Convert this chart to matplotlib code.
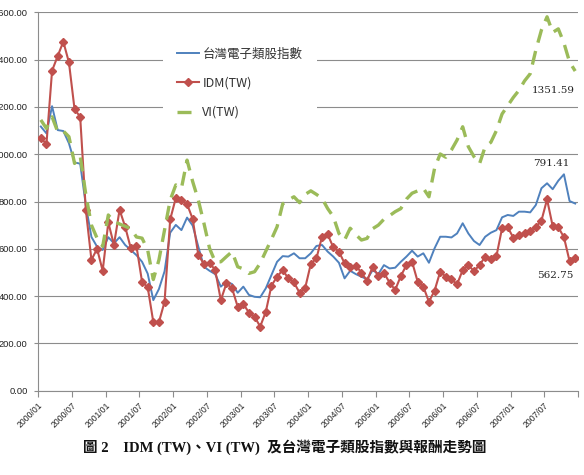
import matplotlib

matplotlib.use("Agg")
import matplotlib.pyplot as plt
import numpy as np

# monthly series, 2000/01 .. 2007/12
ELECTRONICS = [
    1117, 1088, 1203, 1102, 1098, 1046, 965, 960, 785, 650, 609, 595,
    649, 623, 649, 616, 595, 573, 545, 495, 383, 430, 505, 668,
    701, 679, 732, 698, 609, 524, 507, 493, 440, 461, 451, 414,
    440, 405, 397, 395, 433, 489, 545, 569, 567, 581, 560, 560,
    581, 612, 616, 588, 567, 541, 475, 507, 493, 482, 471, 510,
    493, 531, 517, 520, 545, 567, 592, 567, 581, 541, 602, 651,
    651, 648, 665, 708, 665, 633, 616, 651, 668, 679, 733, 743,
    739, 757, 757, 754, 785, 856, 877, 852, 888, 915, 802, 791.41,
]
IDM = [
    1070, 1042, 1353, 1415, 1476, 1388, 1190, 1158, 765, 553, 600, 507,
    712, 616, 765, 693, 602, 612, 460, 438, 290, 290, 376, 724,
    815, 806, 789, 726, 574, 536, 541, 510, 383, 454, 433, 355,
    367, 330, 313, 271, 334, 444, 482, 510, 475, 458, 414, 435,
    536, 560, 651, 661, 606, 588, 539, 522, 529, 499, 465, 524,
    485, 499, 457, 426, 485, 531, 545, 461, 440, 376, 423, 503,
    482, 471, 450, 510, 531, 506, 531, 567, 555, 569, 687, 691,
    647, 657, 665, 675, 692, 719, 809, 696, 691, 649, 548, 562.75,
]
VI = [
    1145, 1109, 1158, 1095, 1098, 1074, 961, 992, 830, 700, 645, 610,
    743, 715, 705, 695, 685, 650, 645, 595, 470, 553, 680, 806,
    870, 856, 975, 884, 806, 708, 602, 545, 545, 567, 588, 524,
    515, 496, 503, 539, 590, 640, 693, 790, 806, 820, 795, 830,
    845, 830, 813, 770, 736, 665, 637, 687, 660, 637, 644, 685,
    700, 725, 740, 757, 770, 810, 835, 845, 856, 820, 940, 1001,
    987, 1018, 1060, 1116, 1032, 990, 960, 1032, 1050, 1100, 1170, 1205,
    1240, 1270, 1310, 1340, 1440, 1525, 1581, 1515, 1530, 1470, 1390, 1351.59,
]
X_LABELS = [
    "2000/01", "2000/07", "2001/01", "2001/07", "2002/01", "2002/07",
    "2003/01", "2003/07", "2004/01", "2004/07", "2005/01", "2005/07",
    "2006/01", "2006/07", "2007/01", "2007/07",
]
SERIES_NAMES = ["台灣電子類股指數", "IDM(TW)", "VI(TW)"]
CAPTION = "圖 2　IDM (TW)、VI (TW)  及台灣電子類股指數與報酬走勢圖"

BLUE = "#4F81BD"
RED = "#C0504D"
GREEN = "#9BBB59"
GRID = "#8C8C8C"

CJK = ["Noto Sans CJK TC", "DejaVu Sans"]

assert len(ELECTRONICS) == len(IDM) == len(VI) == 96

fig = plt.figure(figsize=(5.84, 4.75), dpi=100)
ax = fig.add_axes([38 / 584, 1 - 390.7 / 475, 540 / 584, (390.7 - 12.3) / 475])

x = np.arange(len(IDM)) + 0.5
ax.plot(x, ELECTRONICS, color=BLUE, lw=1.4, label=SERIES_NAMES[0], zorder=3)
ax.plot(x, IDM, color=RED, lw=1.5, marker="D", ms=3.6, label=SERIES_NAMES[1], zorder=3)
ax.plot(x, VI, color=GREEN, lw=2.4, dashes=(4.2, 2.6), label=SERIES_NAMES[2], zorder=3)

ax.set_xlim(0, len(IDM))
ax.set_ylim(0, 1600)
ax.set_yticks(np.arange(0, 1601, 200))
ax.yaxis.set_major_formatter(matplotlib.ticker.FormatStrFormatter("%.2f"))
ax.set_xticks(np.arange(0, len(IDM) + 1, 6))
ax.set_xticklabels(X_LABELS + [""], rotation=45, ha="right", va="top",
                   rotation_mode="anchor")
ax.tick_params(axis="x", length=4, width=0.8, color=GRID, labelsize=6.2,
               labelcolor="#222222", pad=3)
ax.tick_params(axis="y", length=3, width=0.8, color=GRID, labelsize=6.7,
               labelcolor="#222222", pad=4.5)
for label in ax.get_yticklabels() + ax.get_xticklabels():
    label.set_family("Liberation Sans")
ax.grid(axis="y", color=GRID, lw=0.8)
ax.set_axisbelow(True)
for side in ["top", "right"]:
    ax.spines[side].set_visible(False)
for side in ["left", "bottom"]:
    ax.spines[side].set_color(GRID)
    ax.spines[side].set_linewidth(0.8)

legend = ax.legend(loc="upper left", bbox_to_anchor=(163 / 584, 1 - 33 / 475),
                   bbox_transform=fig.transFigure, frameon=True, fancybox=False,
                   framealpha=1, edgecolor="none", facecolor="white",
                   prop={"family": CJK, "size": 9}, handlelength=1.75,
                   handletextpad=0.25, labelspacing=1.3, borderpad=1.15,
                   borderaxespad=0)
legend.set_zorder(4)
for text in legend.get_texts():
    text.set_color("#333333")

last = len(IDM) - 0.5
value_font = {"family": "DejaVu Serif", "size": 7.5, "color": "#222222"}
ax.annotate(f"{VI[-1]:.2f}", (last, VI[-1]), xytext=(-16, -14),
            textcoords="offset points", ha="center", va="center", **value_font)
ax.annotate(f"{ELECTRONICS[-1]:.2f}", (last, ELECTRONICS[-1]), xytext=(-17, 29),
            textcoords="offset points", ha="center", va="center", **value_font)
ax.annotate(f"{IDM[-1]:.2f}", (last, IDM[-1]), xytext=(-14, -13),
            textcoords="offset points", ha="center", va="center", **value_font)

fig.text(285 / 584, 1 - 447 / 475, CAPTION, ha="center", va="center",
         family=["Liberation Serif", "Noto Sans CJK TC"], weight="bold",
         size=10.5, color="#111111")

fig.savefig("out.png", dpi=100)
plt.close(fig)
